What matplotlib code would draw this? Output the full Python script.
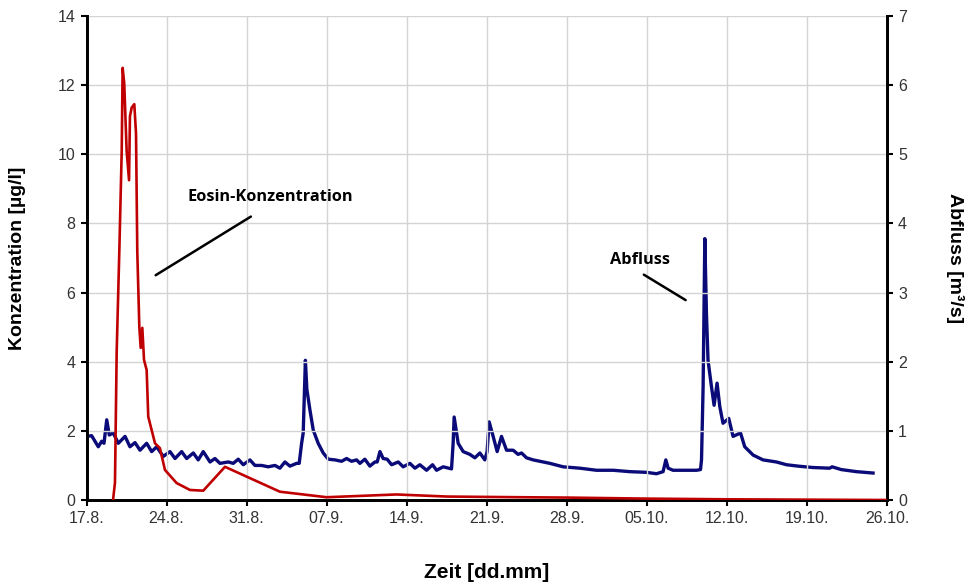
import matplotlib
matplotlib.use("Agg")
import matplotlib.pyplot as plt
from matplotlib import font_manager

names = {f.name for f in font_manager.fontManager.ttflist}
narrow = "Liberation Sans Narrow" if "Liberation Sans Narrow" in names else "Liberation Sans"

# x in days after 17.8.
tick_days = [0, 7, 14, 21, 28, 35, 42, 49, 56, 63, 70]
tick_labels = ["17.8.", "24.8.", "31.8.", "07.9.", "14.9.", "21.9.", "28.9.",
               "05.10.", "12.10.", "19.10.", "26.10."]

# Eosin concentration [µg/l] (left axis)
conc_days = [2.32, 2.49, 2.64, 2.87, 3.08, 3.16, 3.30, 3.51, 3.72, 3.80, 3.95, 4.18,
             4.33, 4.44, 4.62, 4.74, 4.88, 5.03, 5.26, 5.40, 5.99, 6.42, 6.86, 7.88,
             9.05, 10.21, 12.11, 16.91, 21.0, 27.1, 31.5, 38.0, 42.0, 49.0, 56.0,
             63.0, 70.0]
conc_vals = [0.0, 0.5, 4.3, 7.2, 10.1, 12.5, 12.05, 10.1, 9.25, 11.1, 11.35, 11.45,
             10.6, 7.2, 5.0, 4.4, 4.98, 4.05, 3.76, 2.41, 1.64, 1.5, 0.87, 0.49,
             0.29, 0.27, 0.96, 0.24, 0.08, 0.16, 0.10, 0.08, 0.07, 0.04, 0.02,
             0.01, 0.0]

# Discharge [m3/s] (right axis)
q_days = [0.02, 0.45, 1.03, 1.33, 1.53, 1.77, 1.99, 2.34, 2.78, 3.37, 3.80, 4.24,
          4.68, 5.26, 5.70, 6.14, 6.71, 7.30, 7.74, 8.32, 8.76, 9.34, 9.77, 10.21,
          10.80, 11.23, 11.67, 12.40, 12.83, 13.27, 13.71, 14.29, 14.73, 15.31,
          15.89, 16.48, 16.91, 17.35, 17.79, 18.37, 18.60, 18.81, 18.95, 19.14,
          19.27, 19.54, 19.83, 20.26, 20.70, 21.14, 21.72, 22.31, 22.74, 23.18,
          23.62, 23.91, 24.34, 24.78, 25.22, 25.42, 25.66, 25.94, 26.29, 26.68,
          27.26, 27.69, 28.28, 28.72, 29.15, 29.74, 30.26, 30.61, 31.19, 31.92,
          32.06, 32.15, 32.50, 32.94, 33.52, 33.96, 34.40, 34.83, 35.03, 35.21,
          35.56, 35.91, 36.29, 36.73, 37.31, 37.74, 38.04, 38.48, 39.06, 39.64,
          40.52, 41.68, 43.14, 44.60, 46.05, 47.51, 48.97, 49.84, 50.42, 50.66,
          50.86, 51.29, 53.34, 53.69, 53.78, 53.92, 54.07, 54.21, 54.35, 54.65,
          54.88, 55.14, 55.38, 55.66, 56.16, 56.54, 57.19, 57.56, 58.29, 59.16,
          60.33, 61.21, 62.22, 63.5, 64.99, 65.2, 66.0, 67.33, 68.78]
q_vals = [0.92, 0.93, 0.77, 0.85, 0.82, 1.16, 0.94, 0.97, 0.82, 0.92, 0.77, 0.83,
          0.72, 0.82, 0.70, 0.77, 0.63, 0.70, 0.60, 0.70, 0.60, 0.68, 0.58, 0.70,
          0.55, 0.60, 0.53, 0.55, 0.53, 0.59, 0.51, 0.58, 0.50, 0.50,
          0.48, 0.50, 0.46, 0.55, 0.49, 0.53, 0.53, 0.82, 0.97, 2.02,
          1.60, 1.30, 1.01, 0.82, 0.68, 0.59, 0.58, 0.56, 0.60, 0.56,
          0.58, 0.53, 0.59, 0.49, 0.55, 0.55, 0.70, 0.60, 0.59, 0.51,
          0.55, 0.48, 0.53, 0.46, 0.51, 0.43, 0.51, 0.43, 0.48, 0.45,
          0.82, 1.20, 0.82, 0.70, 0.66, 0.61, 0.68, 0.58, 0.70, 1.13,
          0.92, 0.70, 0.92, 0.72, 0.72, 0.66, 0.68, 0.61, 0.58, 0.56,
          0.53, 0.48, 0.46, 0.43, 0.43, 0.41, 0.40, 0.38, 0.41, 0.58,
          0.46, 0.43, 0.43, 0.44, 0.58, 1.64, 3.78, 2.70, 2.02, 1.64,
          1.37, 1.69, 1.35, 1.11, 1.18, 0.92, 0.97, 0.77, 0.65, 0.58,
          0.55, 0.51, 0.49, 0.47, 0.46, 0.48, 0.44, 0.41, 0.39]

red = "#C00000"
navy = "#0A0A78"

fig = plt.figure(figsize=(9.66, 5.84), dpi=100)
ax = fig.add_axes([86.5 / 966, 84 / 584, (887 - 86.5) / 966, 484 / 584])
ax2 = ax.twinx()

ax.set_xlim(0, 70)
ax.set_ylim(0, 14)
ax2.set_ylim(0, 7)

ax.set_xticks(tick_days)
ax.set_xticklabels(tick_labels)
ax.set_yticks(range(0, 15, 2))
ax2.set_yticks(range(0, 8))

ax.grid(True, color="#d4d4d4", linewidth=1.0)
ax.set_axisbelow(True)

ax2.plot(q_days, q_vals, color=navy, linewidth=2.4, zorder=3)
ax.plot(conc_days, conc_vals, color=red, linewidth=1.9, zorder=4)
ax.set_zorder(ax2.get_zorder() + 1)
ax.patch.set_visible(False)

for a in (ax, ax2):
    a.spines["top"].set_visible(False)
    for s in ("left", "right", "bottom"):
        a.spines[s].set_linewidth(2.0)
        a.spines[s].set_color("black")
    a.tick_params(direction="out", length=4, width=1.5, labelsize=11.5,
                  labelcolor="#333333", pad=4)
    for lab in a.get_xticklabels() + a.get_yticklabels():
        lab.set_family(narrow)

label_font = dict(family="Liberation Sans", fontsize=14, fontweight="bold")
fig.text(18 / 966, 1 - 258 / 584, "Konzentration [µg/l]", rotation=90,
         ha="center", va="center", **label_font)
fig.text(955 / 966, 1 - 258 / 584, "Abfluss [m³/s]", rotation=270,
         ha="center", va="center", **label_font)
fig.text(487 / 966, 1 - 572 / 584, "Zeit [dd.mm]", ha="center", va="center",
         fontsize=15, family="Liberation Sans", fontweight="bold")

ann_font = dict(family="Open Sans", fontsize=11.8, fontweight="bold")
ax.annotate("", xy=(5.84, 6.46), xytext=(14.58, 8.24),
            arrowprops=dict(arrowstyle="-", color="black", lw=1.8))
ax.text(16.04, 8.76, "Eosin-Konzentration", ha="center", va="center", **ann_font)
ax.annotate("", xy=(52.6, 5.74), xytext=(48.53, 6.56),
            arrowprops=dict(arrowstyle="-", color="black", lw=1.8))
ax.text(48.4, 6.94, "Abfluss", ha="center", va="center", **ann_font)

fig.savefig("out.png", dpi=100)
